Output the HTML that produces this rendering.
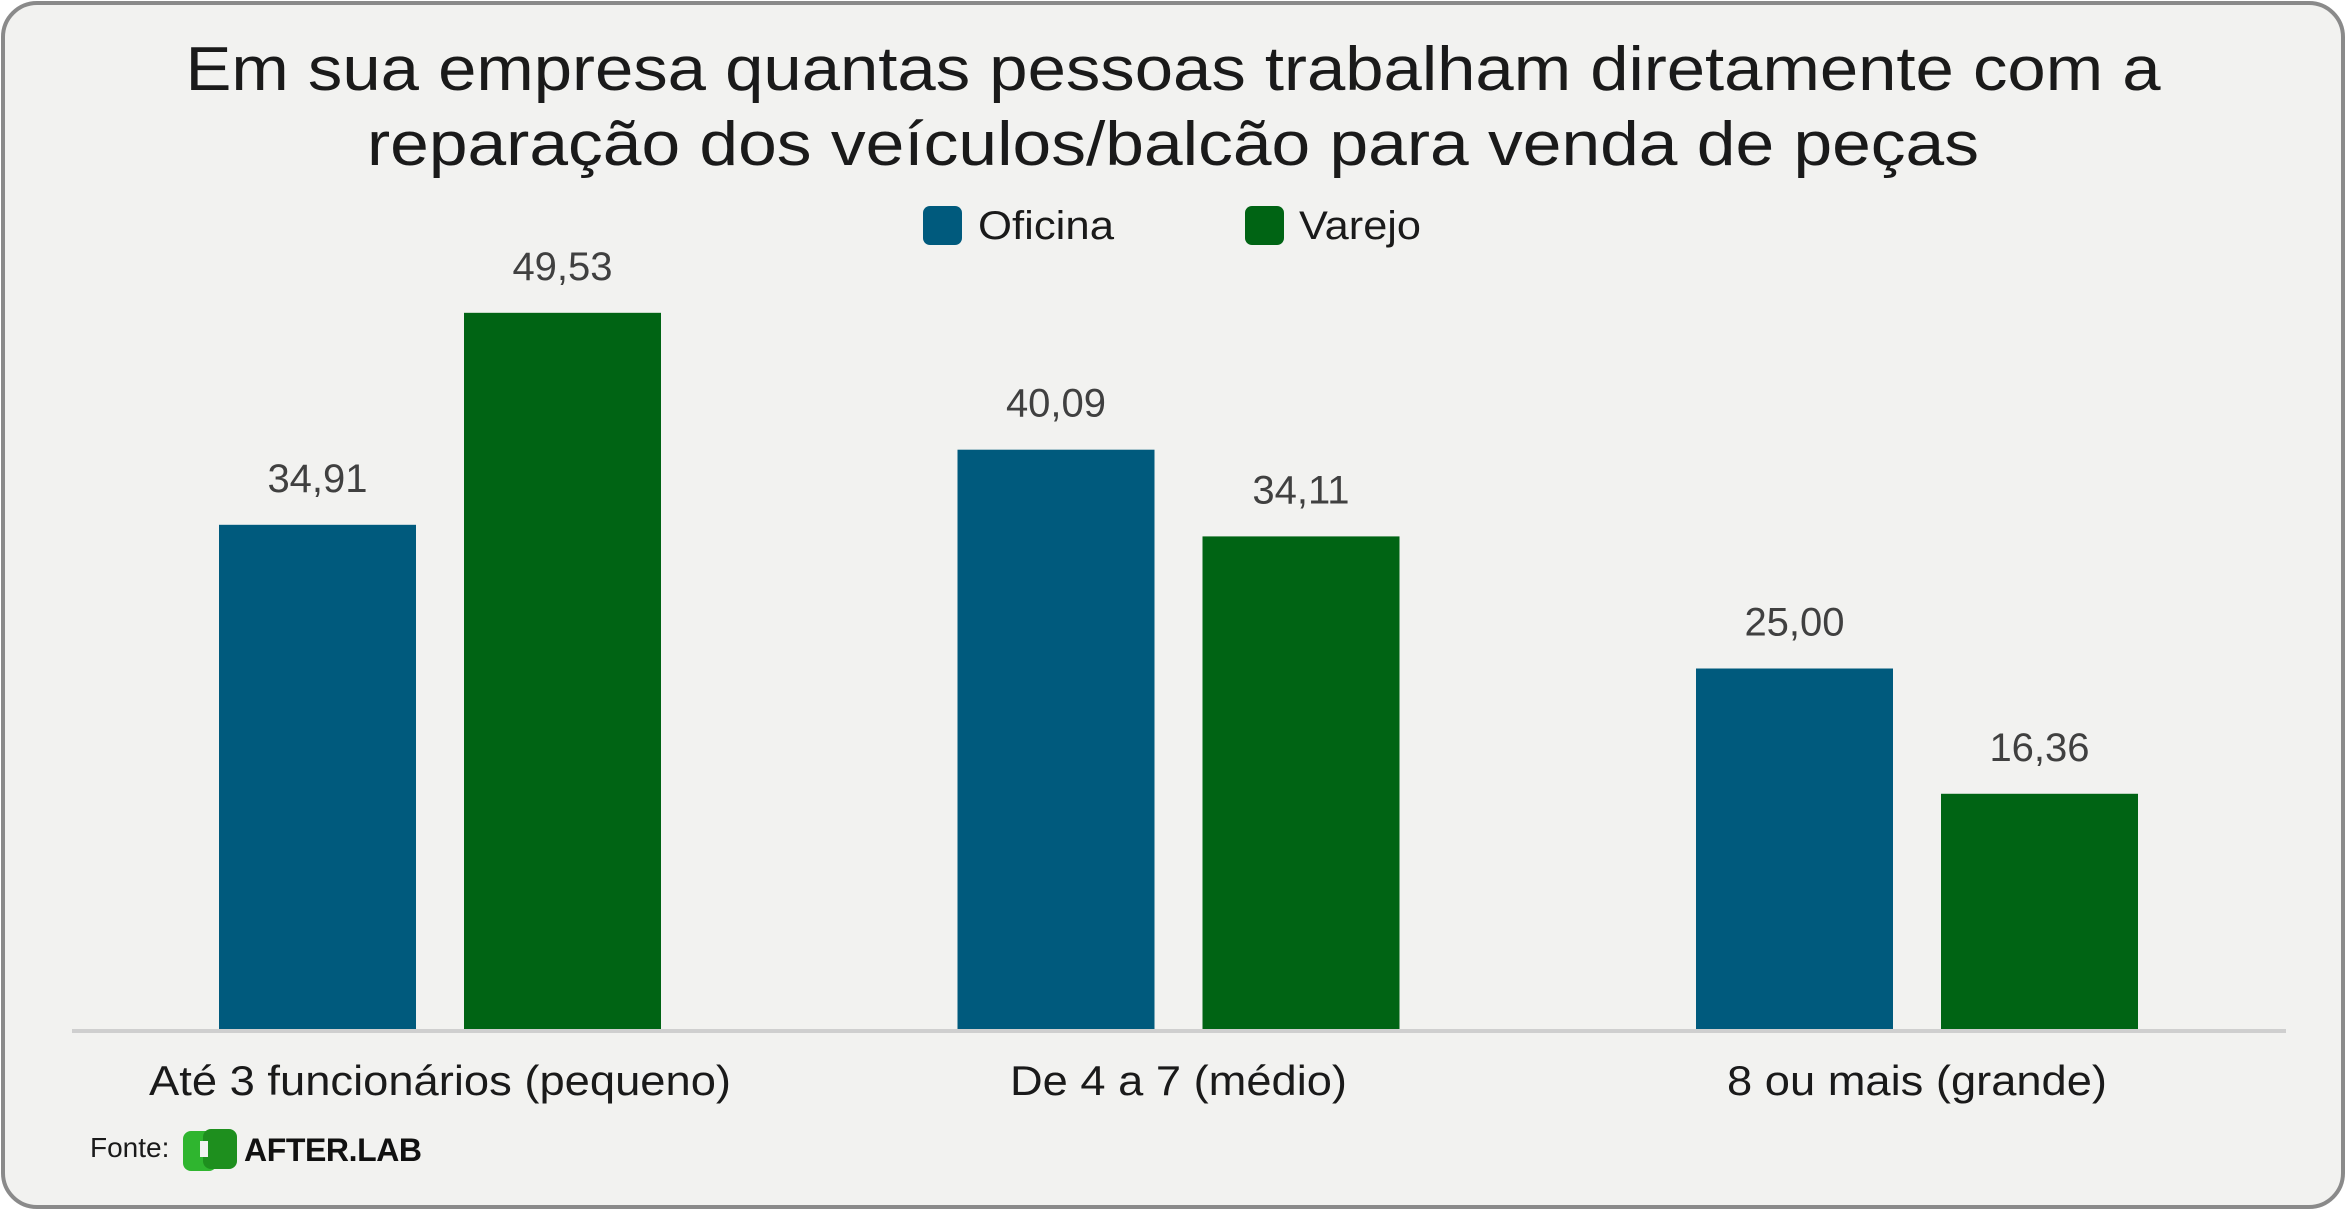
<!DOCTYPE html>
<html><head><meta charset="utf-8"><style>
html,body{margin:0;padding:0;background:#fff;}
svg{display:block;font-family:"Liberation Sans",sans-serif;}
</style></head><body>
<svg id="chart" width="2346" height="1210" viewBox="0 0 2346 1210">
<rect x="3" y="3" width="2340" height="1204" rx="34" fill="#f2f2f0" stroke="#8a8a8a" stroke-width="4"/>
<text x="1173" y="90" text-anchor="middle" font-size="62" fill="#1a1a1a" textLength="1975" lengthAdjust="spacingAndGlyphs">Em sua empresa quantas pessoas trabalham diretamente com a</text>
<text x="1173" y="165" text-anchor="middle" font-size="62" fill="#1a1a1a" textLength="1612" lengthAdjust="spacingAndGlyphs">reparação dos veículos/balcão para venda de peças</text>
<g>
<rect x="923" y="206" width="39" height="39" rx="7" fill="#005a7d"/>
<text x="978" y="239" font-size="40" fill="#1a1a1a" textLength="136" lengthAdjust="spacingAndGlyphs">Oficina</text>
<rect x="1245" y="206" width="39" height="39" rx="7" fill="#006414"/>
<text x="1299" y="239" font-size="40" fill="#1a1a1a" textLength="122" lengthAdjust="spacingAndGlyphs">Varejo</text>
</g>
<g id="bars"></g>
<line x1="72" y1="1031" x2="2286" y2="1031" stroke="#cfcfcf" stroke-width="4"/>
<g id="cats"></g>
<text x="90" y="1157" font-size="28" fill="#1a1a1a">Fonte:</text>
<g>
<rect x="183" y="1131" width="34" height="40" rx="8" fill="#2fb52f"/>
<rect x="203" y="1129" width="34" height="40" rx="8" fill="#1e8f1e"/>
<rect x="200" y="1141" width="8" height="16" fill="#f2f2f0"/>
<text x="244" y="1161" font-size="32" font-weight="bold" fill="#111" textLength="178">AFTER.LAB</text>
</g>
</svg>
<script>
const categories = ["Até 3 funcionários (pequeno)", "De 4 a 7 (médio)", "8 ou mais (grande)"];
const oficina = [34.91, 40.09, 25.00];
const varejo = [49.53, 34.11, 16.36];
const seriesNames = ["oficina", "varejo"];
const NS = "http://www.w3.org/2000/svg";
const baseY = 1031, pxPerUnit = 14.5;
const y = v => baseY - v * pxPerUnit;
const groupX = i => 440 + i * 738.5;
const barW = 197, gap = 48;
const colors = ["#005a7d", "#006414"];
const bars = document.getElementById("bars");
const cats = document.getElementById("cats");
const fmt = v => v.toFixed(2).replace(".", ",");
[oficina, varejo].forEach((series, s) => {
  series.forEach((v, i) => {
    const x = groupX(i) + (s === 0 ? -(gap / 2 + barW) : gap / 2);
    const r = document.createElementNS(NS, "rect");
    r.setAttribute("x", x); r.setAttribute("y", y(v));
    r.setAttribute("width", barW); r.setAttribute("height", baseY - y(v));
    r.setAttribute("fill", colors[s]);
    
    
    bars.appendChild(r);
    const t = document.createElementNS(NS, "text");
    t.setAttribute("x", x + barW / 2); t.setAttribute("y", y(v) - 33);
    t.setAttribute("text-anchor", "middle"); t.setAttribute("font-size", "40");
    t.setAttribute("fill", "#404040");
    t.textContent = fmt(v);
    
    
    bars.appendChild(t);
  });
});
const catWidths = [582, 337, 380];
categories.forEach((c, i) => {
  const t = document.createElementNS(NS, "text");
  t.setAttribute("x", groupX(i)); t.setAttribute("y", 1095);
  t.setAttribute("text-anchor", "middle"); t.setAttribute("font-size", "42");
  t.setAttribute("fill", "#1a1a1a");
  t.setAttribute("textLength", catWidths[i]);
  t.setAttribute("lengthAdjust", "spacingAndGlyphs");
  t.textContent = c;
  
  
  cats.appendChild(t);
});
</script>
</body></html>
